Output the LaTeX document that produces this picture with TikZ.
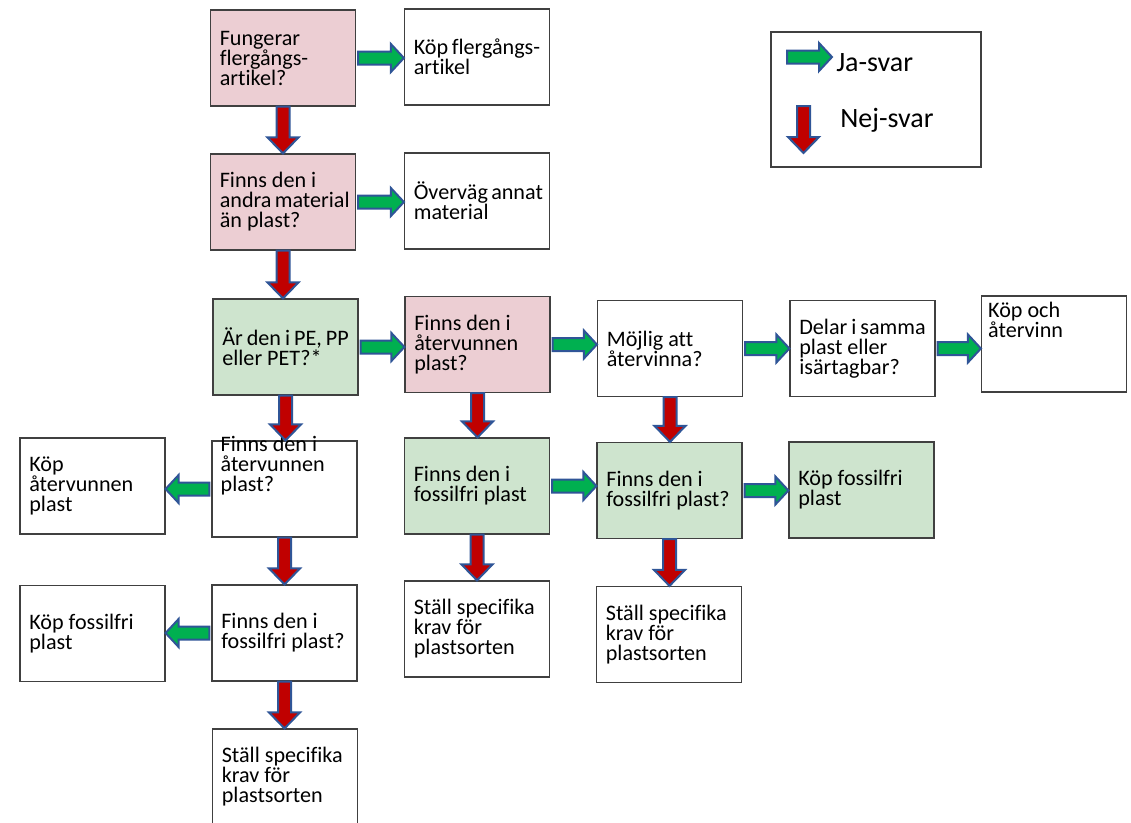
\documentclass[tikz,border=0pt]{standalone}
\usepackage{fontspec}
\setmainfont{Carlito}[Ligatures=NoCommon]
\usetikzlibrary{calc}
\definecolor{pinkbox}{RGB}{236,206,211}
\definecolor{greenbox}{RGB}{206,228,206}
\definecolor{jagreen}{RGB}{0,176,80}
\definecolor{nejred}{RGB}{192,0,0}
\definecolor{arrowblue}{RGB}{47,85,151}
\tikzset{
  box/.style={draw=black!75, line width=0.9pt, minimum width=108.75pt, minimum height=72pt,
    inner xsep=7pt, inner ysep=0pt, text width=94.75pt, align=flush left,
    execute at begin node={\hyphenpenalty=10000\exhyphenpenalty=10000},
    font=\fontsize{16.6}{15}\selectfont},
  boxtext/.style={inner sep=0pt, align=flush left, font=\fontsize{16.6}{15}\selectfont},
  jaarrow/.style={fill=jagreen, draw=arrowblue, line width=1.5pt, line join=miter},
  nejarrow/.style={fill=nejred, draw=arrowblue, line width=1.5pt, line join=miter},
}
\def\jaright(#1)(#2){%
  \path (#1) coordinate (s) (#1 -| #2) coordinate (e);
  \draw[jaarrow] ($(s)+(2,-6.5)$) -- ($(e)+(-13,-6.5)$) -- ($(e)+(-13,-14)$) -- (e)
    -- ($(e)+(-13,14)$) -- ($(e)+(-13,6.5)$) -- ($(s)+(2,6.5)$) -- cycle;}
\def\jaleft(#1)(#2){%
  \path (#1) coordinate (s) (#1 -| #2) coordinate (e);
  \draw[jaarrow] ($(s)+(-2,-6.5)$) -- ($(e)+(13,-6.5)$) -- ($(e)+(13,-14)$) -- (e)
    -- ($(e)+(13,14)$) -- ($(e)+(13,6.5)$) -- ($(s)+(-2,6.5)$) -- cycle;}
\def\nejdown(#1)(#2){%
  \path (#1) coordinate (s) (#1 |- #2) coordinate (e);
  \draw[nejarrow] ($(s)+(-6.5,0)$) -- ($(e)+(-6.5,-16)$) -- ($(e)+(-15.5,-16)$) -- (e)
    -- ($(e)+(15.5,-16)$) -- ($(e)+(6.5,-16)$) -- ($(s)+(6.5,0)$) -- cycle;}

\begin{document}
\begin{tikzpicture}[x=0.75pt, y=-0.75pt]
  \useasboundingbox (0,0) rectangle (1131,822);

  % column 1 and 2, top
  \node[box, fill=pinkbox] (fung) at (283,58) {Fungerar\\flergångs-\\artikel?};
  \node[box] (kopfler) at (477,57) {Köp~flergångs-\\artikel};
  \node[box, fill=pinkbox] (andra) at (283,202) {Finns~den~i\\andra~material\\än~plast?};
  \node[box] (overvag) at (477,201) {Överväg~annat\\material};

  % middle row
  \node[box, fill=greenbox] (pepp) at (285.5,347) {Är~den~i~PE,~PP\\eller~PET?*};
  \node[box, fill=pinkbox] (atervunnen) at (477.5,344.5) {Finns~den~i\\återvunnen\\plast?};
  \node[box] (mojlig) at (670,348.5) {Möjlig~att\\återvinna?};
  \node[box] (delar) at (862.5,348.5) {Delar~i~samma\\plast~eller\\isärtagbar?};
  \node[box] (kopoch) at (1054,344) {};
  \node[boxtext, anchor=north west] (kopochtext) at ($(kopoch.north west)+(7,6)$) {Köp~och\\återvinn};

  % left branch
  \node[box] (atervunnen2) at (284.5,489) {};
  \node[boxtext, anchor=north west] (atervunnen2text) at ($(atervunnen2.north west)+(9,-5)$) {Finns~den~i\\återvunnen\\plast?};
  \node[box] (kopatervunnen) at (92.5,486) {Köp\\återvunnen\\plast};
  \node[box] (fossilfri3) at (284.5,633) {Finns~den~i\\fossilfri~plast?};
  \node[box] (kopfossil2) at (92.5,633.5) {Köp~fossilfri\\plast};
  \node[box] (stall3) at (285,777) {Ställ~specifika\\krav~för\\plastsorten};

  % right branches
  \node[box, fill=greenbox] (fossilfri) at (477,486) {Finns~den~i\\fossilfri~plast};
  \node[box, fill=greenbox] (fossilfri2) at (669.5,490.5) {Finns~den~i\\fossilfri~plast?};
  \node[box, fill=greenbox] (kopfossil) at (861.5,490) {Köp~fossilfri\\plast};
  \node[box] (stall) at (477,629) {Ställ~specifika\\krav~för\\plastsorten};
  \node[box] (stall2) at (669,634.5) {Ställ~specifika\\krav~för\\plastsorten};

  % ja-svar
  \jaright(fung.east)(kopfler.west)
  \jaright(andra.east)(overvag.west)
  \jaright(pepp.east)(atervunnen.west)
  \jaright(atervunnen.east)(mojlig.west)
  \jaright(mojlig.east)(delar.west)
  \jaright(delar.east)(kopoch.west)
  \jaright(fossilfri.east)(fossilfri2.west)
  \jaright(fossilfri2.east)(kopfossil.west)
  \jaleft(atervunnen2.west)(kopatervunnen.east)
  \jaleft(fossilfri3.west)(kopfossil2.east)

  % nej-svar
  \nejdown(fung.south)(andra.north)
  \nejdown(andra.south)(pepp.north)
  \nejdown(pepp.south)(atervunnen2.north)
  \nejdown(atervunnen.south)(fossilfri.north)
  \nejdown(mojlig.south)(fossilfri2.north)
  \nejdown(atervunnen2.south)(fossilfri3.north)
  \nejdown(fossilfri3.south)(stall3.north)
  \nejdown(fossilfri.south)(stall.north)
  \nejdown(fossilfri2.south)(stall2.north)

  % legend
  \node[box, minimum width=157.5pt, minimum height=101.25pt, text width=0pt] (legend) at (876,99.5) {};
  \coordinate (legja1) at (785,57);
  \coordinate (legja2) at (832,57);
  \coordinate (legnej1) at (803.5,106);
  \coordinate (legnej2) at (803.5,153);
  \jaright(legja1)(legja2)
  \nejdown(legnej1)(legnej2)
  \node[inner sep=0pt, anchor=west, font=\fontsize{21}{25}\selectfont] (jatext) at (836,63) {Ja-svar};
  \node[inner sep=0pt, anchor=west, font=\fontsize{21}{25}\selectfont] (nejtext) at (840,120) {Nej-svar};
\end{tikzpicture}
\end{document}
